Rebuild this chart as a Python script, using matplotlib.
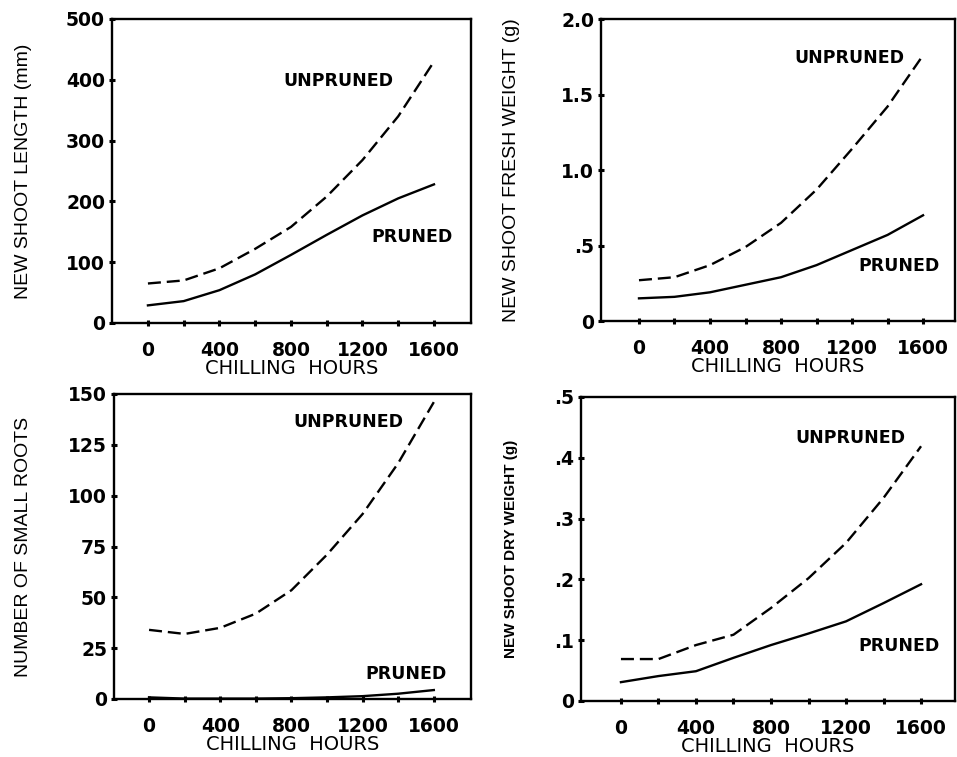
import matplotlib
matplotlib.use("Agg")
import matplotlib.pyplot as plt

# chilling hours, one reading every 200 h
hours = [0, 200, 400, 600, 800, 1000, 1200, 1400, 1600]

# new shoot length (mm)
length_unpruned = [65, 70, 90, 122, 158, 208, 268, 340, 430]
length_pruned = [29, 36, 54, 80, 112, 145, 177, 205, 228]

# new shoot fresh weight (g)
fresh_unpruned = [0.27, 0.29, 0.37, 0.49, 0.65, 0.87, 1.14, 1.42, 1.76]
fresh_pruned = [0.15, 0.16, 0.19, 0.24, 0.29, 0.37, 0.47, 0.57, 0.70]

# number of small roots
roots_unpruned = [34, 32, 35, 42, 53.5, 71, 91, 116, 146]
roots_pruned = [0.8, 0.2, 0.2, 0.2, 0.4, 0.8, 1.4, 2.6, 4.4]

# new shoot dry weight (g)
dry_unpruned = [0.069, 0.069, 0.092, 0.109, 0.153, 0.202, 0.26, 0.334, 0.419]
dry_pruned = [0.031, 0.041, 0.049, 0.071, 0.092, 0.111, 0.131, 0.161, 0.192]

xtick_labels = ["0", "", "400", "", "800", "", "1200", "", "1600"]

length_ticks = [0, 100, 200, 300, 400, 500]
length_labels = ["0", "100", "200", "300", "400", "500"]
fresh_ticks = [0, 0.5, 1.0, 1.5, 2.0]
fresh_labels = ["0", ".5", "1.0", "1.5", "2.0"]
roots_ticks = [0, 25, 50, 75, 100, 125, 150]
roots_labels = ["0", "25", "50", "75", "100", "125", "150"]
dry_ticks = [0, 0.1, 0.2, 0.3, 0.4, 0.5]
dry_labels = ["0", ".1", ".2", ".3", ".4", ".5"]

panels = [
    dict(rect=[112/957, 1 - 323/757, 359/957, 304/757], xlim=(-201, 1807),
         up=length_unpruned, pr=length_pruned, yt=length_ticks, yl=length_labels,
         ylabel="NEW SHOOT LENGTH (mm)", yfs=14, yw="normal", ylx=24,
         up_pos=(1063, 398), pr_pos=(1477, 141)),
    dict(rect=[601/957, 1 - 321/757, 354/957, 302/757], xlim=(-214, 1780),
         up=fresh_unpruned, pr=fresh_pruned, yt=fresh_ticks, yl=fresh_labels,
         ylabel="NEW SHOOT FRESH WEIGHT (g)", yfs=14, yw="normal", ylx=512,
         up_pos=(1183, 1.74), pr_pos=(1465, 0.364)),
    dict(rect=[114/957, 1 - 699/757, 357/957, 305/757], xlim=(-197, 1809),
         up=roots_unpruned, pr=roots_pruned, yt=roots_ticks, yl=roots_labels,
         ylabel="NUMBER OF SMALL ROOTS", yfs=14, yw="normal", ylx=24,
         up_pos=(1118, 136), pr_pos=(1444, 12.1)),
    dict(rect=[581/957, 1 - 701/757, 374/957, 304/757], xlim=(-213, 1781),
         up=dry_unpruned, pr=dry_pruned, yt=dry_ticks, yl=dry_labels,
         ylabel="NEW SHOOT DRY WEIGHT (g)", yfs=11, yw="bold", ylx=511,
         up_pos=(1221, 0.433), pr_pos=(1483, 0.0907)),
]

fig = plt.figure(figsize=(9.57, 7.57), dpi=100)

for p in panels:
    ax = fig.add_axes(p["rect"])
    ax.plot(hours, p["up"], color="black", lw=1.7, linestyle=(0, (5.5, 2.5)))
    ax.plot(hours, p["pr"], color="black", lw=1.7)
    ax.set_xlim(*p["xlim"])
    ax.set_ylim(p["yt"][0], p["yt"][-1])
    ax.set_xticks(hours)
    ax.set_xticklabels(xtick_labels, fontsize=13.5, fontweight="bold")
    ax.set_yticks(p["yt"])
    ax.set_yticklabels(p["yl"], fontsize=13.5, fontweight="bold")
    ax.tick_params(axis="both", direction="inout", length=4, width=2.2)
    ax.tick_params(axis="x", pad=11)
    ax.tick_params(axis="y", pad=3)
    for s in ax.spines.values():
        s.set_linewidth(1.7)
    ax.set_xlabel("CHILLING  HOURS", fontsize=14, labelpad=-1)
    # y label at a fixed pixel column, as in the original layout
    bb = p["rect"]
    fig.text(p["ylx"] / 957, bb[1] + bb[3] / 2, p["ylabel"], rotation=90,
             ha="center", va="center", fontsize=p["yfs"],
             fontweight=p["yw"], family="Liberation Sans")
    ax.text(*p["up_pos"], "UNPRUNED", ha="center", va="center",
            fontsize=12.5, fontweight="bold")
    ax.text(*p["pr_pos"], "PRUNED", ha="center", va="center",
            fontsize=12.5, fontweight="bold")

fig.savefig("out.png", dpi=100)
